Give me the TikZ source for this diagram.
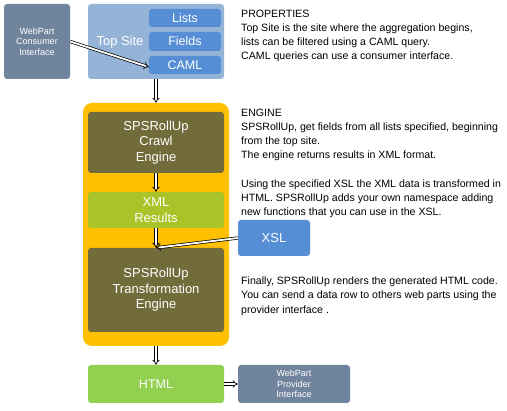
\documentclass[tikz,border=0pt]{standalone}
\usepackage{fontspec}
\setmainfont{Liberation Sans}
\usetikzlibrary{arrows.meta}
\definecolor{slate}{HTML}{71849E}
\definecolor{ltblue}{HTML}{95B3D7}
\definecolor{midblue}{HTML}{558ED5}
\definecolor{orng}{HTML}{FFC000}
\definecolor{olive}{HTML}{726C3A}
\definecolor{xmlgreen}{HTML}{A8C428}
\definecolor{htmlgreen}{HTML}{92D050}
\tikzset{
  box/.style={rectangle, rounded corners=3pt, inner sep=0pt, align=center, text=white},
  bigtxt/.style={font=\fontsize{13}{15.5}\selectfont},
  smalltxt/.style={font=\fontsize{9}{10.6}\selectfont},
  desc/.style={anchor=north west, inner sep=0pt, align=left, font=\fontsize{10.6}{14.1}\selectfont},
  arr/.style={draw=black, line width=0.7pt, double=white, double distance=1.8pt, -{Implies[scale=2.2]}},
}
\begin{document}
\begin{tikzpicture}[x=1pt, y=-1pt]
\useasboundingbox (0,0) rectangle (507,411);
% top
\node[box, fill=slate, minimum width=66pt, minimum height=75pt, smalltxt] (cons) at (37,41.5) {WebPart\\Consumer\\Interface};
\node[box, fill=ltblue, minimum width=136pt, minimum height=75pt] (topsite) at (156,41.5) {};
\node[inner sep=0pt, text=white, bigtxt] (topsitelbl) at (120,42) {Top Site};
\node[box, fill=midblue, minimum width=72pt, minimum height=18pt, font=\fontsize{12.5}{14}\selectfont] (lists) at (185,18) {Lists};
\node[box, fill=midblue, minimum width=72pt, minimum height=19pt, font=\fontsize{12.5}{14}\selectfont] (fields) at (185,41.5) {Fields};
\node[box, fill=midblue, minimum width=72pt, minimum height=18pt, font=\fontsize{12.5}{14}\selectfont] (caml) at (185,65) {CAML};
% engine
\node[box, fill=orng, rounded corners=9pt, minimum width=146pt, minimum height=243pt] (engine) at (156,224.5) {};
\node[box, fill=olive, minimum width=136pt, minimum height=61pt, bigtxt] (crawl) at (156,142.5) {SPSRollUp\\Crawl\\Engine};
\node[box, fill=xmlgreen, minimum width=136pt, minimum height=36pt, bigtxt] (xml) at (156,210) {XML\\Results};
\node[box, fill=olive, minimum width=136pt, minimum height=84pt, bigtxt] (trans) at (156,290) {SPSRollUp\\Transformation\\Engine};
\node[box, fill=midblue, minimum width=72pt, minimum height=36pt, bigtxt] (xsl) at (274,238) {XSL};
% bottom
\node[box, fill=htmlgreen, minimum width=136pt, minimum height=38pt, font=\fontsize{12.5}{14}\selectfont] (html) at (156,384) {HTML};
\node[box, fill=slate, minimum width=112pt, minimum height=38pt, smalltxt] (prov) at (294,384) {WebPart\\Provider\\Interface};
% arrows
\draw[arr] (cons.east) -- ([yshift=-2pt]caml.west);
\draw[arr] (topsite.south) -- (engine.north);
\draw[arr] (crawl.south) -- (xml.north);
\draw[arr] (xml.south) -- (trans.north);
\draw[arr] (xsl.west) -- (trans.north);
\draw[arr] (engine.south) -- (html.north);
\draw[arr] (html.east) -- (prov.west);
% descriptions
\node[desc] (propdesc) at (241,10) {PROPERTIES\\Top Site is the site where the aggregation begins,\\lists can be filtered using a CAML query.\\CAML queries can use a consumer interface.};
\node[desc] (engdesc) at (241,109) {ENGINE\\SPSRollUp, get fields from all lists specified, beginning\\from the top site.\\The engine returns results in XML format.\\[14.1pt]Using the specified XSL the XML data is transformed in\\HTML. SPSRollUp  adds your own namespace adding\\new functions that you can use in the XSL.};
\node[desc] (findesc) at (241,277) {Finally, SPSRollUp renders the generated HTML code.\\You can send a data row to others web parts using the\\provider interface .};
\end{tikzpicture}
\end{document}
